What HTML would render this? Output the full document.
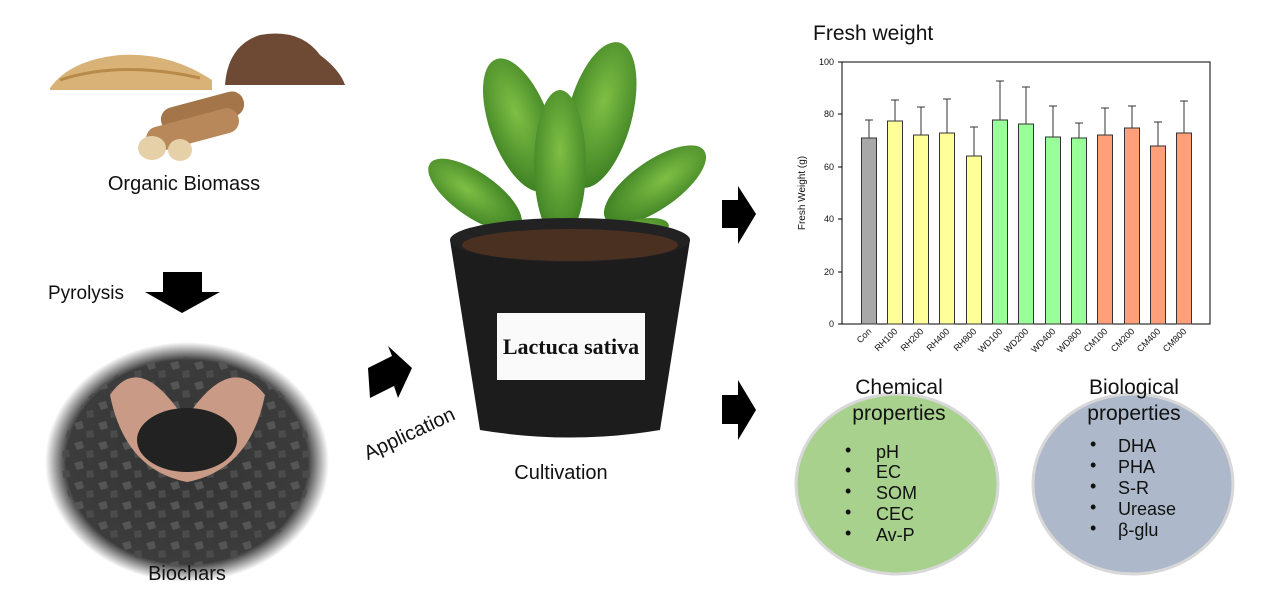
<!DOCTYPE html>
<html><head><meta charset="utf-8"><style>
html,body{margin:0;padding:0;background:#fff;}
svg{display:block;font-family:"Liberation Sans",sans-serif;}
</style></head><body>
<svg width="1271" height="604" viewBox="0 0 1271 604" xmlns="http://www.w3.org/2000/svg">
<defs>
<radialGradient id="bc" cx="50%" cy="50%" r="50%">
<stop offset="0" stop-color="#333"/><stop offset="0.85" stop-color="#3c3c3c"/><stop offset="1" stop-color="#ffffff"/>
</radialGradient>
<radialGradient id="leaf" cx="50%" cy="40%" r="60%">
<stop offset="0" stop-color="#7fbf45"/><stop offset="1" stop-color="#3f8224"/>
</radialGradient>
<pattern id="rocks" width="24" height="20" patternUnits="userSpaceOnUse">
<rect width="24" height="20" fill="none"/>
<polygon points="2,3 10,1 12,8 5,10" fill="#555"/>
<polygon points="14,11 21,10 22,17 15,18" fill="#4b4b4b"/>
</pattern>
</defs>

<!-- grain pile -->
<path d="M50 88 Q70 60 120 55 Q170 52 212 80 L212 90 L50 90 Z" fill="#d9b277"/>
<path d="M60 80 Q120 60 200 78" stroke="#b88a4a" stroke-width="3" fill="none"/>
<!-- soil -->
<path d="M225 85 Q228 45 260 35 Q300 28 320 55 Q340 70 345 85 Z" fill="#6e4a34"/>
<!-- logs -->
<g>
<rect x="160" y="100" width="85" height="25" rx="12" fill="#a37548" transform="rotate(-15 200 112)"/>
<rect x="145" y="118" width="95" height="25" rx="12" fill="#b8875a" transform="rotate(-15 190 130)"/>
<ellipse cx="152" cy="148" rx="14" ry="12" fill="#e6d0a8"/>
<ellipse cx="180" cy="150" rx="12" ry="11" fill="#e6d0a8"/>
</g>
<text x="184" y="190" font-size="20" text-anchor="middle" fill="#111">Organic Biomass</text>

<text x="48" y="299" font-size="19" fill="#111">Pyrolysis</text>
<polygon points="163,272 202,272 202,292 220,292 182,313 145,292 163,292" fill="#000"/>

<!-- biochar -->
<ellipse cx="187" cy="462" rx="142" ry="120" fill="url(#bc)"/>
<ellipse cx="187" cy="462" rx="125" ry="105" fill="url(#rocks)"/>
<path d="M110 395 Q140 350 185 420 Q230 350 265 395 Q250 470 187 482 Q125 470 110 395 Z" fill="#c99a85"/>
<ellipse cx="187" cy="440" rx="50" ry="32" fill="#222"/>
<text x="187" y="580" font-size="20" text-anchor="middle" fill="#111">Biochars</text>

<!-- application arrow -->
<polygon points="368,368 392,356 388,346 412,368 398,398 394,386 370,398" fill="#000"/>
<text x="410" y="440" font-size="20" text-anchor="middle" fill="#111" transform="rotate(-25 410 435)">Application</text>

<!-- plant -->
<g fill="url(#leaf)">
<ellipse cx="520" cy="125" rx="30" ry="70" transform="rotate(-20 520 125)"/>
<ellipse cx="600" cy="115" rx="32" ry="75" transform="rotate(15 600 115)"/>
<ellipse cx="475" cy="195" rx="22" ry="55" transform="rotate(-55 475 195)"/>
<ellipse cx="655" cy="185" rx="24" ry="60" transform="rotate(55 655 185)"/>
<ellipse cx="560" cy="165" rx="26" ry="75"/>
<ellipse cx="630" cy="235" rx="40" ry="14" transform="rotate(-15 630 235)"/>
</g>
<!-- pot -->
<path d="M450 240 Q570 210 690 240 L660 430 Q570 445 480 430 Z" fill="#1c1c1c"/>
<ellipse cx="570" cy="240" rx="120" ry="22" fill="#222"/>
<ellipse cx="570" cy="245" rx="108" ry="16" fill="#4a3020"/>
<rect x="497" y="313" width="148" height="67" fill="#fafafa"/>
<text x="571" y="354" font-size="22" font-weight="bold" text-anchor="middle" font-family="Liberation Serif,serif" fill="#111">Lactuca sativa</text>
<text x="561" y="479" font-size="20" text-anchor="middle" fill="#111">Cultivation</text>

<!-- right arrows -->
<polygon points="722,200 738,200 738,186 756,214 738,244 738,228 722,228" fill="#000"/>
<polygon points="722,395 738,395 738,380 756,410 738,440 738,424 722,424" fill="#000"/>

<!-- chart -->
<text x="813" y="40" font-size="21" fill="#111">Fresh weight</text>
<rect x="842" y="62" width="368" height="262" fill="none" stroke="#000" stroke-width="1"/>
<g font-size="9" fill="#111" text-anchor="end">
<text x="834" y="327">0</text><text x="834" y="275">20</text><text x="834" y="222">40</text>
<text x="834" y="170">60</text><text x="834" y="117">80</text><text x="834" y="65">100</text>
</g>
<g stroke="#000"><line x1="838" y1="324" x2="842" y2="324"/><line x1="838" y1="272" x2="842" y2="272"/><line x1="838" y1="219" x2="842" y2="219"/><line x1="838" y1="167" x2="842" y2="167"/><line x1="838" y1="114" x2="842" y2="114"/><line x1="838" y1="62" x2="842" y2="62"/></g>
<text x="805" y="193" font-size="10" text-anchor="middle" transform="rotate(-90 805 193)" fill="#111">Fresh Weight (g)</text>
<g stroke="#333" stroke-width="1">
<rect x="861.5" y="138" width="15" height="186" fill="#a8a8a8"/><line x1="869" y1="138" x2="869" y2="120"/><line x1="865" y1="120" x2="873" y2="120"/>
<rect x="887.5" y="121" width="15" height="203" fill="#ffff99"/><line x1="895" y1="121" x2="895" y2="100"/><line x1="891" y1="100" x2="899" y2="100"/>
<rect x="913.5" y="135" width="15" height="189" fill="#ffff99"/><line x1="921" y1="135" x2="921" y2="107"/><line x1="917" y1="107" x2="925" y2="107"/>
<rect x="939.5" y="133" width="15" height="191" fill="#ffff99"/><line x1="947" y1="133" x2="947" y2="99"/><line x1="943" y1="99" x2="951" y2="99"/>
<rect x="966.5" y="156" width="15" height="168" fill="#ffff99"/><line x1="974" y1="156" x2="974" y2="127"/><line x1="970" y1="127" x2="978" y2="127"/>
<rect x="992.5" y="120" width="15" height="204" fill="#99ff99"/><line x1="1000" y1="120" x2="1000" y2="81"/><line x1="996" y1="81" x2="1004" y2="81"/>
<rect x="1018.5" y="124" width="15" height="200" fill="#99ff99"/><line x1="1026" y1="124" x2="1026" y2="87"/><line x1="1022" y1="87" x2="1030" y2="87"/>
<rect x="1045.5" y="137" width="15" height="187" fill="#99ff99"/><line x1="1053" y1="137" x2="1053" y2="106"/><line x1="1049" y1="106" x2="1057" y2="106"/>
<rect x="1071.5" y="138" width="15" height="186" fill="#99ff99"/><line x1="1079" y1="138" x2="1079" y2="123"/><line x1="1075" y1="123" x2="1083" y2="123"/>
<rect x="1097.5" y="135" width="15" height="189" fill="#ffa07a"/><line x1="1105" y1="135" x2="1105" y2="108"/><line x1="1101" y1="108" x2="1109" y2="108"/>
<rect x="1124.5" y="128" width="15" height="196" fill="#ffa07a"/><line x1="1132" y1="128" x2="1132" y2="106"/><line x1="1128" y1="106" x2="1136" y2="106"/>
<rect x="1150.5" y="146" width="15" height="178" fill="#ffa07a"/><line x1="1158" y1="146" x2="1158" y2="122"/><line x1="1154" y1="122" x2="1162" y2="122"/>
<rect x="1176.5" y="133" width="15" height="191" fill="#ffa07a"/><line x1="1184" y1="133" x2="1184" y2="101"/><line x1="1180" y1="101" x2="1188" y2="101"/>
</g>
<g font-size="9" fill="#111" text-anchor="end">
<text transform="translate(872 332) rotate(-45)">Con</text>
<text transform="translate(898 332) rotate(-45)">RH100</text>
<text transform="translate(924 332) rotate(-45)">RH200</text>
<text transform="translate(950 332) rotate(-45)">RH400</text>
<text transform="translate(977 332) rotate(-45)">RH800</text>
<text transform="translate(1003 332) rotate(-45)">WD100</text>
<text transform="translate(1029 332) rotate(-45)">WD200</text>
<text transform="translate(1056 332) rotate(-45)">WD400</text>
<text transform="translate(1082 332) rotate(-45)">WD800</text>
<text transform="translate(1108 332) rotate(-45)">CM100</text>
<text transform="translate(1135 332) rotate(-45)">CM200</text>
<text transform="translate(1161 332) rotate(-45)">CM400</text>
<text transform="translate(1187 332) rotate(-45)">CM800</text>
</g>

<!-- circles -->
<ellipse cx="897" cy="484" rx="101" ry="90" fill="#a9d18e" stroke="#d8d8d8" stroke-width="3"/>
<ellipse cx="1133" cy="484" rx="100" ry="90" fill="#adb9ca" stroke="#d8d8d8" stroke-width="3"/>
<g font-size="21" fill="#111" text-anchor="middle">
<text x="899" y="394">Chemical</text><text x="899" y="420">properties</text>
<text x="1134" y="394">Biological</text><text x="1134" y="420">properties</text>
</g>
<g font-size="18" fill="#111">
<text x="845" y="456">•</text><text x="876" y="458">pH</text>
<text x="845" y="476">•</text><text x="876" y="478">EC</text>
<text x="845" y="497">•</text><text x="876" y="499">SOM</text>
<text x="845" y="518">•</text><text x="876" y="520">CEC</text>
<text x="845" y="539">•</text><text x="876" y="541">Av-P</text>
<text x="1090" y="450">•</text><text x="1118" y="452">DHA</text>
<text x="1090" y="471">•</text><text x="1118" y="473">PHA</text>
<text x="1090" y="492">•</text><text x="1118" y="494">S-R</text>
<text x="1090" y="513">•</text><text x="1118" y="515">Urease</text>
<text x="1090" y="534">•</text><text x="1118" y="536">β-glu</text>
</g>
</svg>
</body></html>
